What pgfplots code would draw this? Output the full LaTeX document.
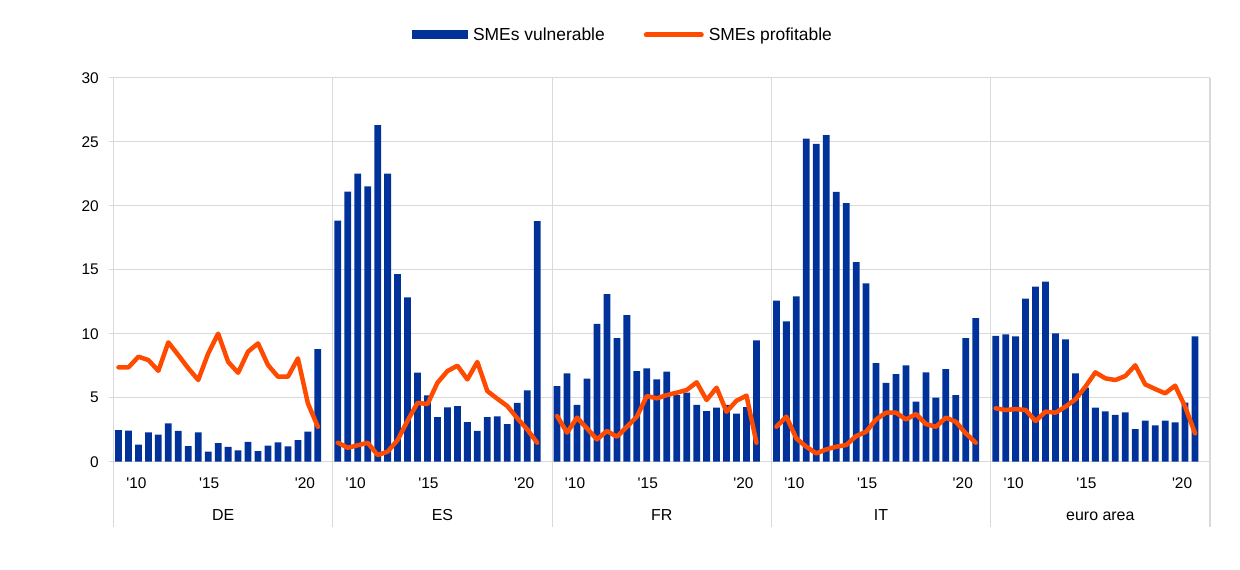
\documentclass[border=0pt]{standalone}
\usepackage{pgfplots}
\pgfplotsset{compat=1.18}
\usepackage{pgfplotstable}
\usepackage{fontspec}
\setmainfont{Liberation Sans}
\definecolor{ecbblue}{HTML}{003299}
\definecolor{ecborange}{HTML}{FF4B00}
\definecolor{gridgray}{HTML}{D9D9D9}

% i = position within panel, v = SMEs vulnerable, p = SMEs profitable
\pgfplotstableread{
i v p
0 2.47 7.37
1 2.42 7.37
2 1.33 8.20
3 2.29 7.94
4 2.11 7.10
5 3.00 9.32
6 2.40 8.33
7 1.22 7.30
8 2.29 6.38
9 0.78 8.46
10 1.46 10.00
11 1.15 7.80
12 0.89 6.95
13 1.54 8.60
14 0.83 9.24
15 1.25 7.55
16 1.51 6.64
17 1.20 6.64
18 1.69 8.07
19 2.34 4.56
20 8.80 2.73
}\tDE
\pgfplotstableread{
i v p
0 18.83 1.48
1 21.10 1.09
2 22.50 1.28
3 21.50 1.48
4 26.30 0.52
5 22.50 0.78
6 14.66 1.69
7 12.84 3.20
8 6.95 4.60
9 5.18 4.50
10 3.49 6.17
11 4.24 7.08
12 4.35 7.50
13 3.10 6.43
14 2.40 7.79
15 3.49 5.52
16 3.54 4.92
17 2.94 4.35
18 4.60 3.40
19 5.57 2.53
20 18.80 1.48
}\tES
\pgfplotstableread{
i v p
0 5.91 3.57
1 6.90 2.27
2 4.43 3.44
3 6.48 2.60
4 10.76 1.74
5 13.10 2.40
6 9.66 1.95
7 11.46 2.73
8 7.08 3.52
9 7.29 5.13
10 6.43 4.95
11 7.03 5.20
12 5.20 5.39
13 5.39 5.60
14 4.43 6.20
15 3.96 4.82
16 4.22 5.78
17 4.43 3.90
18 3.75 4.77
19 4.27 5.16
20 9.48 1.48
}\tFR
\pgfplotstableread{
i v p
0 12.58 2.73
1 10.96 3.52
2 12.92 1.82
3 25.23 1.17
4 24.82 0.65
5 25.52 0.96
6 21.07 1.17
7 20.20 1.30
8 15.60 2.00
9 13.93 2.34
10 7.71 3.30
11 6.15 3.83
12 6.85 3.83
13 7.53 3.30
14 4.69 3.72
15 6.98 2.94
16 5.00 2.73
17 7.24 3.44
18 5.20 3.12
19 9.66 2.21
20 11.22 1.48
}\tIT
\pgfplotstableread{
i v p
0 9.82 4.17
1 9.95 4.04
2 9.79 4.11
3 12.73 4.04
4 13.67 3.18
5 14.06 3.91
6 10.03 3.83
7 9.56 4.30
8 6.90 4.87
9 5.78 5.86
10 4.22 6.98
11 3.93 6.51
12 3.65 6.38
13 3.85 6.69
14 2.55 7.53
15 3.20 6.04
16 2.84 5.68
17 3.20 5.34
18 3.07 5.94
19 4.61 4.30
20 9.79 2.21
}\tEA

\newcommand{\q}{\textquotesingle}

\begin{document}
\begin{tikzpicture}[x=1bp,y=1bp]
\useasboundingbox (0,0) rectangle (1240,570);
\begin{axis}[
  at={(113.5bp,108.3bp)}, anchor=south west,
  scale only axis, width=1096.5bp, height=384bp,
  xmin=0, xmax=110, ymin=0, ymax=30,
  clip=false,
  font=\fontsize{15.5}{18}\selectfont,
  /pgf/number format/assume math mode=true,
  axis x line*=bottom, axis y line*=left,
  axis line style={gridgray, line width=1.2bp, -},
  ytick={0,5,...,30},
  ymajorgrids,
  major grid style={gridgray, line width=1.2bp},
  tick align=outside,
  major tick length=5bp,
  ytick style={gridgray, line width=1.2bp},
  yticklabel style={anchor=east, inner sep=0pt, xshift=-9.5bp},
  xtick={2.3,9.6,19.2, 24.3,31.6,41.2, 46.3,53.6,63.2, 68.3,75.6,85.2, 90.3,97.6,107.2},
  xticklabels={\q10,\q15,\q20,\q10,\q15,\q20,\q10,\q15,\q20,\q10,\q15,\q20,\q10,\q15,\q20},
  xtick style={draw=none},
  xticklabel style={anchor=base, inner sep=0pt, yshift=-22bp},
  legend style={at={(0.4637,1)}, anchor=center, yshift=42.7bp,
    draw=none, fill=none, legend columns=2, inner sep=0pt,
    font=\fontsize{17.5}{20}\selectfont,
    /tikz/every odd column/.append style={column sep=5bp},
    /tikz/every even column/.append style={column sep=39bp},
    nodes={inner sep=0pt, anchor=west}},
]
% bars
\addplot[ybar, bar width=0.68, bar shift=0pt, fill=ecbblue, draw=none,
  legend image code/.code={\fill[ecbblue] (0bp,-4.5bp) rectangle (56bp,4.5bp);}]
  table[x expr=\thisrow{i}+0.5, y=v] {\tDE};
\addlegendentry{SMEs vulnerable}
\addplot[ybar, bar width=0.68, bar shift=0pt, fill=ecbblue, draw=none, forget plot]
  table[x expr=\thisrow{i}+22.5, y=v] {\tES};
\addplot[ybar, bar width=0.68, bar shift=0pt, fill=ecbblue, draw=none, forget plot]
  table[x expr=\thisrow{i}+44.5, y=v] {\tFR};
\addplot[ybar, bar width=0.68, bar shift=0pt, fill=ecbblue, draw=none, forget plot]
  table[x expr=\thisrow{i}+66.5, y=v] {\tIT};
\addplot[ybar, bar width=0.68, bar shift=0pt, fill=ecbblue, draw=none, forget plot]
  table[x expr=\thisrow{i}+88.5, y=v] {\tEA};
% lines
\addplot[ecborange, line width=4.5bp, line join=round, line cap=round, mark=none,
  legend image code/.code={\draw[ecborange, line width=5bp, line cap=round] (2.5bp,0) -- (57.5bp,0);}]
  table[x expr=\thisrow{i}+0.5, y=p] {\tDE};
\addlegendentry{SMEs profitable}
\addplot[ecborange, line width=4.5bp, line join=round, line cap=round, mark=none, forget plot]
  table[x expr=\thisrow{i}+22.5, y=p] {\tES};
\addplot[ecborange, line width=4.5bp, line join=round, line cap=round, mark=none, forget plot]
  table[x expr=\thisrow{i}+44.5, y=p] {\tFR};
\addplot[ecborange, line width=4.5bp, line join=round, line cap=round, mark=none, forget plot]
  table[x expr=\thisrow{i}+66.5, y=p] {\tIT};
\addplot[ecborange, line width=4.5bp, line join=round, line cap=round, mark=none, forget plot]
  table[x expr=\thisrow{i}+88.5, y=p] {\tEA};
% panel separators
\foreach \k in {0,22,44,66,88,110} {
  \edef\tmp{\noexpand\draw[gridgray, line width=1.2bp] (axis cs:\k,30) -- (axis cs:\k,0) -- ++(0,-65.5bp);}
  \tmp
}
% category labels
\foreach \k/\lab in {11/DE,33/ES,55/FR,77/IT,99/euro area} {
  \edef\tmp{\noexpand\node[anchor=base, inner sep=0pt, font=\noexpand\fontsize{16}{18}\noexpand\selectfont] at (axis cs:\k,0) [yshift=-58.8bp] {\lab};}
  \tmp
}
\end{axis}
\end{tikzpicture}
\end{document}
